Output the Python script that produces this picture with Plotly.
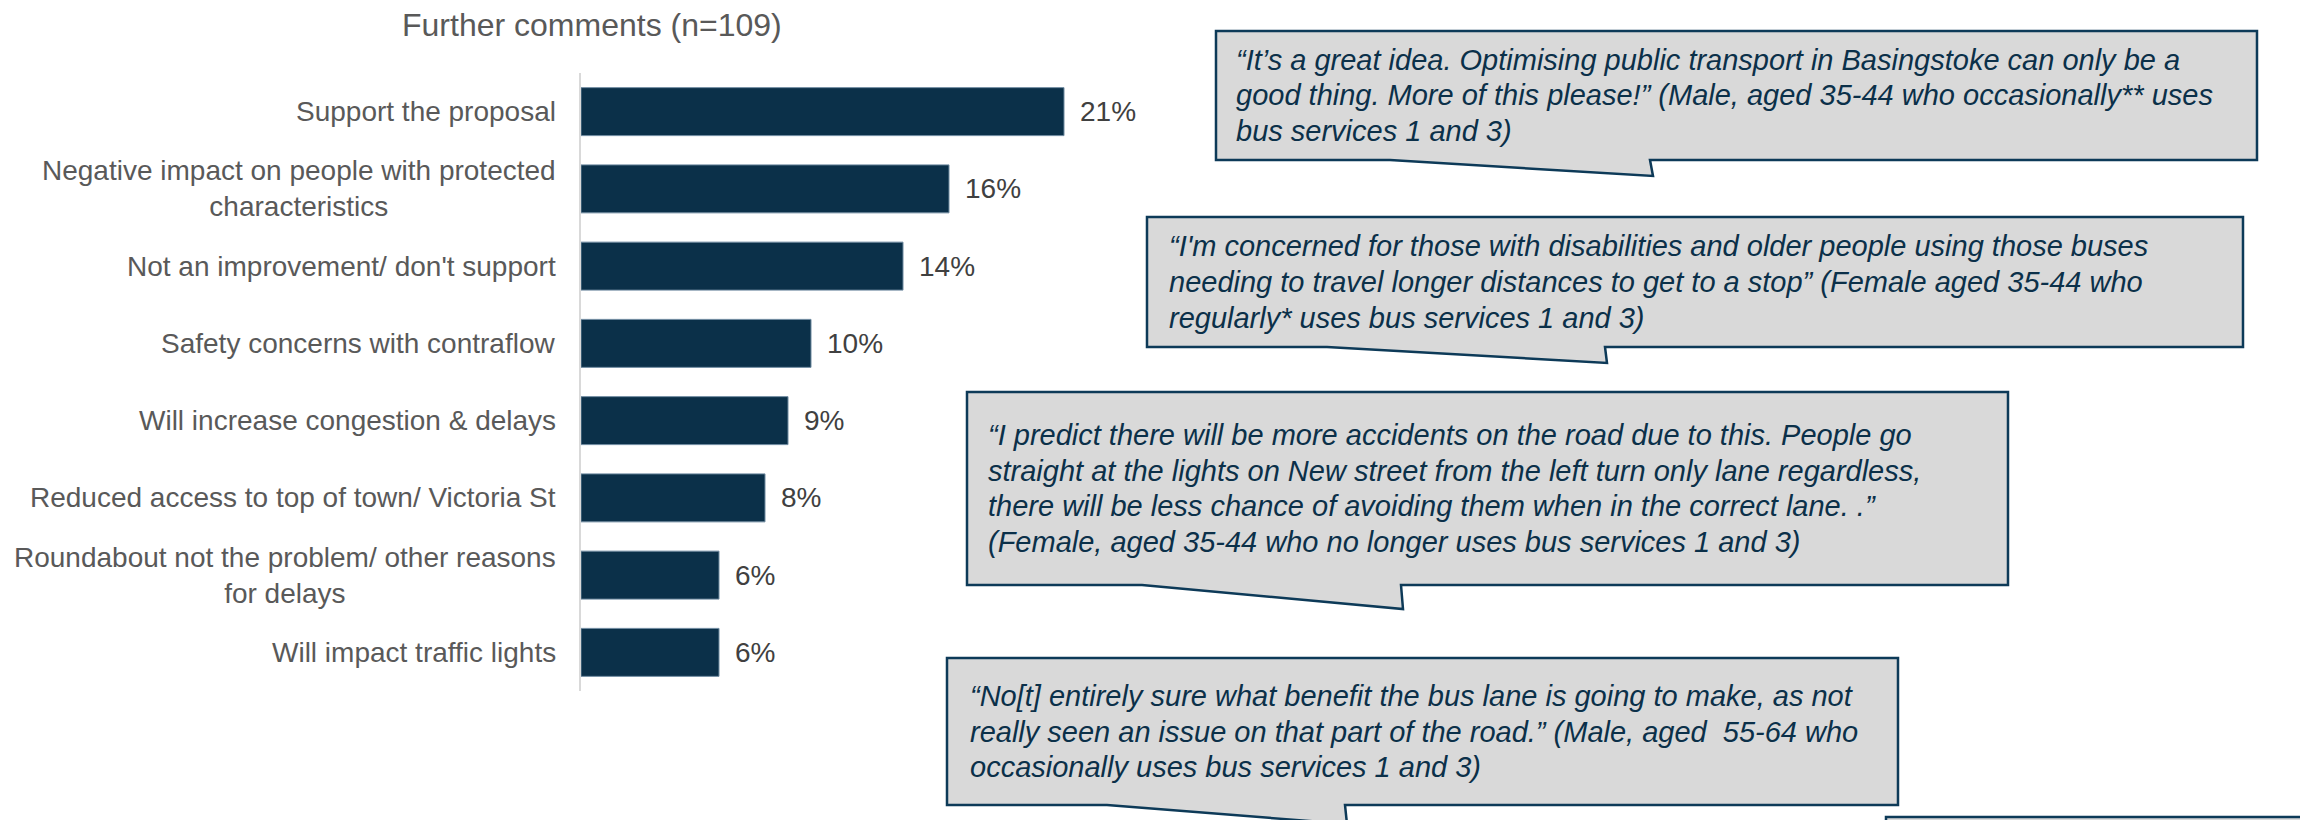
import plotly.graph_objects as go

# ---------------- data ----------------
categories = [
    "Support the proposal",
    "Negative impact on people with protected<br>characteristics",
    "Not an improvement/ don't support",
    "Safety concerns with contraflow",
    "Will increase congestion & delays",
    "Reduced access to top of town/ Victoria St",
    "Roundabout not the problem/ other reasons<br>for delays",
    "Will impact traffic lights",
]
values = [21, 16, 14, 10, 9, 8, 6, 6]
value_labels = ["21%", "16%", "14%", "10%", "9%", "8%", "6%", "6%"]
title_text = "Further comments (n=109)"

quote_1 = [
    "“It’s a great idea. Optimising public transport in Basingstoke can only be a",
    "good thing. More of this please!” (Male, aged 35-44 who occasionally** uses",
    "bus services 1 and 3)",
]
quote_2 = [
    "“I'm concerned for those with disabilities and older people using those buses",
    "needing to travel longer distances to get to a stop” (Female aged 35-44 who",
    "regularly* uses bus services 1 and 3)",
]
quote_3 = [
    "“I predict there will be more accidents on the road due to this. People go",
    "straight at the lights on New street from the left turn only lane regardless,",
    "there will be less chance of avoiding them when in the correct lane. .”",
    "(Female, aged 35-44 who no longer uses bus services 1 and 3)",
]
quote_4 = [
    "“No[t] entirely sure what benefit the bus lane is going to make, as not",
    "really seen an issue on that part of the road.” (Male, aged \u00a055-64 who",
    "occasionally uses bus services 1 and 3)",
]

# ---------------- layout geometry (page pixels) ----------------
PAGE_W, PAGE_H = 2308, 820
BODY = 8                      # default body margin of the html page
W, H = PAGE_W - BODY, PAGE_H - BODY

def px(x):
    return (x - BODY) / W
def py(y):
    return 1 - (y - BODY) / H

FONT = "Arial, Liberation Sans, sans-serif"
NAVY = "#0b3049"
GREY = "#595959"

axis_left, axis_top, axis_bottom = 581, 73, 691
px_per_unit = 23.0
x_max = 30
axis_right = axis_left + px_per_unit * x_max

fig = go.Figure()
fig.add_trace(go.Bar(
    x=values, y=categories, orientation="h",
    marker=dict(color=NAVY, line=dict(color="#6f8aa0", width=1)),
    hoverinfo="skip", showlegend=False,
))

annotations = []
# title
annotations.append(dict(
    text=title_text, xref="paper", yref="paper", x=px(591.5), y=py(25),
    xanchor="center", yanchor="middle", showarrow=False,
    font=dict(family=FONT, size=32, color=GREY),
))
# category labels (centered lines, right aligned block)
for c in categories:
    annotations.append(dict(
        text=c, xref="paper", yref="y", x=px(558), y=c,
        xanchor="right", yanchor="middle", align="center", showarrow=False,
        font=dict(family=FONT, size=28, color=GREY),
    ))
# value labels
for c, v, t in zip(categories, values, value_labels):
    annotations.append(dict(
        text=t, xref="x", yref="y", x=v, y=c, xshift=14,
        xanchor="left", yanchor="middle", showarrow=False,
        font=dict(family=FONT, size=28, color="#404040"),
    ))

callouts = [
    dict(lines=quote_1, left=1216, top=31, right=2257, bottom=160,
         diag=1390, vx=1650, tip=(1653, 176), tx=1234),
    dict(lines=quote_2, left=1147, top=217, right=2243, bottom=347,
         diag=1327, vx=1605, tip=(1607, 363), tx=1167),
    dict(lines=quote_3, left=967, top=392, right=2008, bottom=585,
         diag=1142, vx=1401, tip=(1403, 609), tx=986),
    dict(lines=quote_4, left=947, top=658, right=1898, bottom=805,
         diag=1107, vx=1345, tip=(1347, 824), tx=968),
]

shapes = []
line_gap = 35.7
for co in callouts:
    L, T, R, B = co["left"], co["top"], co["right"], co["bottom"]
    pts = [(L, T), (R, T), (R, B), (co["vx"], B), co["tip"], (co["diag"], B), (L, B)]
    path = "M " + " L ".join(f"{px(a):.6f},{py(b):.6f}" for a, b in pts) + " Z"
    shapes.append(dict(type="path", path=path, xref="paper", yref="paper",
                       fillcolor="#d9d9d9", line=dict(color="#0d3a58", width=2.5),
                       layer="above"))
    n = len(co["lines"])
    cy = (T + B) / 2
    for i, ln in enumerate(co["lines"]):
        yy = cy + (i - (n - 1) / 2) * line_gap
        annotations.append(dict(
            text=f"<i>{ln}</i>", xref="paper", yref="paper", x=px(co["tx"]), y=py(yy),
            xanchor="left", yanchor="middle", showarrow=False,
            font=dict(family=FONT, size=29, color=NAVY),
        ))

# fifth callout, mostly off the page
shapes.append(dict(type="rect", xref="paper", yref="paper",
                   x0=px(1886), x1=px(2303), y0=py(817), y1=py(900),
                   fillcolor="#d9d9d9", line=dict(color="#0d3a58", width=2.5),
                   layer="above"))

fig.update_layout(
    width=W, height=H,
    margin=dict(l=0, r=0, t=0, b=0),
    paper_bgcolor="white", plot_bgcolor="white",
    bargap=0.379,
    xaxis=dict(domain=[px(axis_left), px(axis_right)], range=[0, x_max],
               showgrid=False, zeroline=False, showticklabels=False, showline=False,
               fixedrange=True),
    yaxis=dict(domain=[py(axis_bottom), py(axis_top)],
               categoryorder="array", categoryarray=categories, autorange="reversed",
               showgrid=False, zeroline=False, showticklabels=False,
               showline=True, linecolor="#d9d9d9", linewidth=2, ticks="",
               fixedrange=True),
    annotations=annotations,
    shapes=shapes,
    showlegend=False,
)

fig.write_html("out.html")
